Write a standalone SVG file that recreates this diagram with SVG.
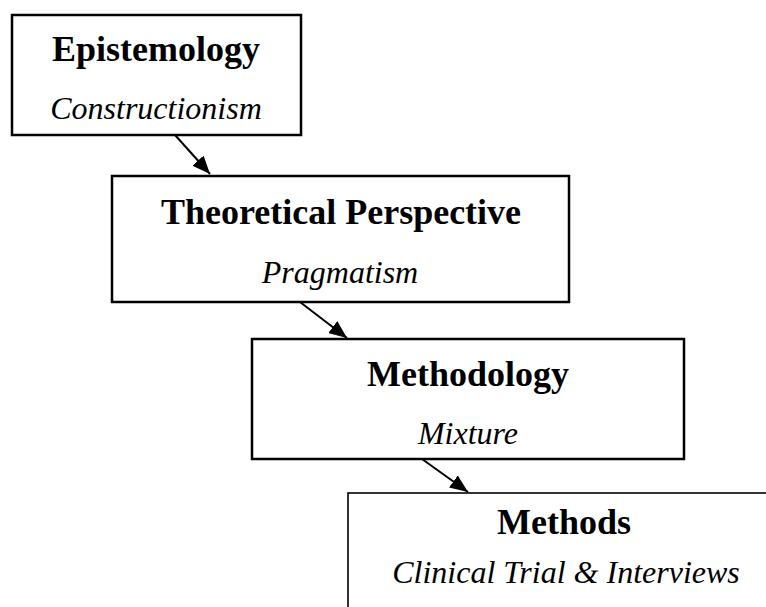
<svg xmlns="http://www.w3.org/2000/svg" width="766" height="607" viewBox="0 0 766 607">
  <style>
    .box { fill: #ffffff; stroke: #000000; stroke-width: 2.5; }
    .box.thin { stroke-width: 1.6; }
    .title { font-family: "Liberation Serif", "Times New Roman", serif; font-weight: bold; font-size: 36px; fill: #000000; text-anchor: middle; }
    .sub { font-family: "Liberation Serif", "Times New Roman", serif; font-style: italic; font-size: 32px; fill: #000000; text-anchor: middle; }
    .link { stroke: #000000; stroke-width: 2; fill: none; marker-end: url(#arrow); }
  </style>
  <defs>
    <marker id="arrow" viewBox="0 0 18 15" refX="18" refY="7.5" markerWidth="18" markerHeight="15" markerUnits="userSpaceOnUse" orient="auto">
      <path d="M0,0 L18,7.5 L0,15 Z" fill="#000000"/>
    </marker>
  </defs>

  <rect width="766" height="607" fill="#ffffff"/>

  <g id="epistemology">
    <rect class="box" x="12" y="15" width="289" height="120"/>
    <text class="title" x="156" y="61">Epistemology</text>
    <text class="sub" x="156" y="119">Constructionism</text>
  </g>

  <g id="theoretical-perspective">
    <rect class="box" x="112" y="176" width="457" height="126"/>
    <text class="title" x="341" y="224">Theoretical Perspective</text>
    <text class="sub" x="340" y="283">Pragmatism</text>
  </g>

  <g id="methodology">
    <rect class="box" x="252" y="339" width="432" height="120"/>
    <text class="title" x="468" y="386">Methodology</text>
    <text class="sub" x="468" y="444">Mixture</text>
  </g>

  <g id="methods">
    <rect class="box thin" x="348" y="493" width="440" height="140"/>
    <text class="title" x="564" y="534">Methods</text>
    <text class="sub" x="566" y="583">Clinical Trial &amp; Interviews</text>
  </g>

  <g id="connectors">
    <line class="link" x1="175" y1="135" x2="210" y2="174"/>
    <line class="link" x1="300" y1="302" x2="347" y2="338"/>
    <line class="link" x1="422" y1="459" x2="468" y2="492"/>
  </g>
</svg>
